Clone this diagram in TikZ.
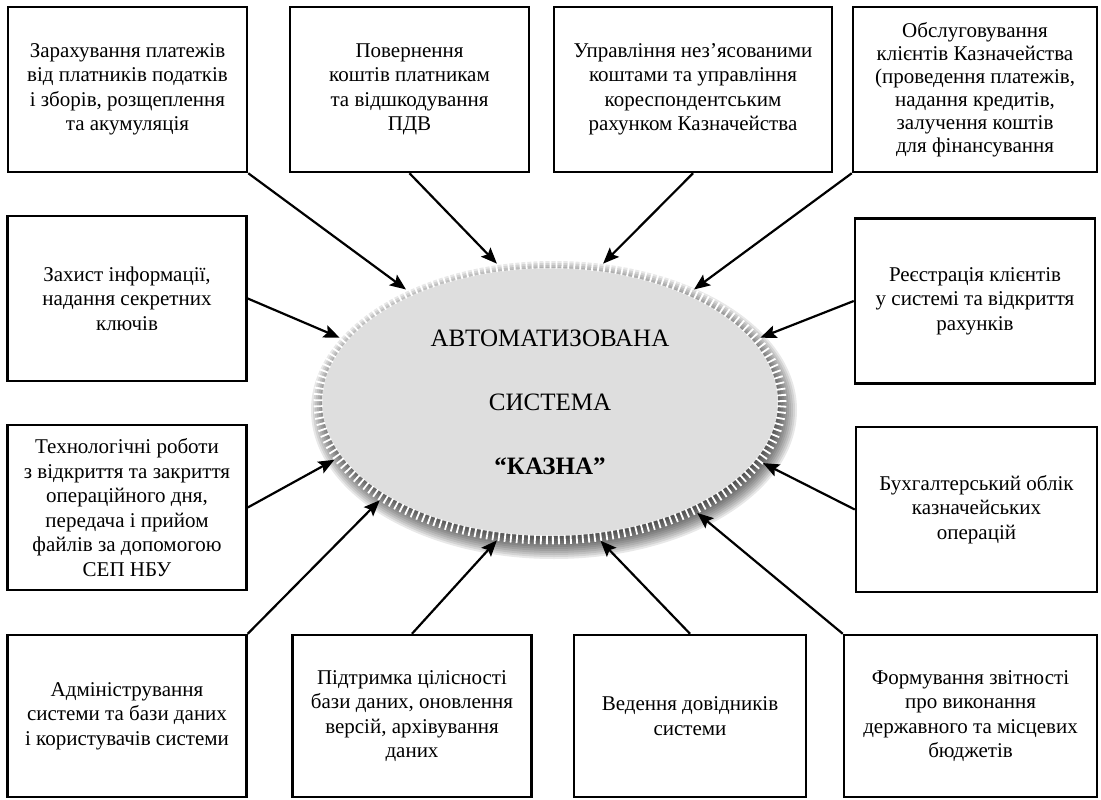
\documentclass[tikz,border=0pt]{standalone}
\usepackage{fontspec}
\setmainfont{Liberation Serif}
\usetikzlibrary{arrows.meta, shapes.geometric}

\definecolor{rimgray}{gray}{0.87}

\tikzset{
	box/.style = {draw, line width = 2.5pt, minimum width = 239pt, minimum height = 165pt, inner sep = 0pt, align = center, font = \fontsize{21}{24.5}\selectfont},
	link/.style = {line width = 2.2pt, -{Stealth[length = 16pt, width = 13pt, inset = 3pt]}}
}

\begin{document}
\begin{tikzpicture}[x = 1pt, y = -1pt]

	\useasboundingbox (0, 0) rectangle (1101, 800);

	% Shadow

	\coordinate (mid) at (550, 402);
	\foreach \s in {0, ..., 13}
		\fill [black, opacity = 0.09] ([shift = {(4, 8)}] mid) ellipse [x radius = {243pt - 2pt * \s}, y radius = {149pt - 2pt * \s}];

	% Ellipse

	\node [ellipse, fill = rimgray, minimum width = 456pt, minimum height = 268pt, inner sep = 0pt, outer sep = 8pt, align = center, font = \fontsize{25}{64}\selectfont] (kazna) at (mid) {АВТОМАТИЗОВАНА\\СИСТЕМА\\\textbf{“КАЗНА”}};
	\draw [white, line width = 9pt, dash pattern = on 1.8pt off 4.2pt] (mid) ellipse [x radius = 232pt, y radius = 138pt];

	% Boxes

	\node [box] (zarakh) at (127.5, 89.5) {Зарахування платежів\\від платників податків\\і зборів, розщеплення\\та акумуляція};
	\node [box] (povern) at (409.5, 89.5) {Повернення\\коштів платникам\\та відшкодування\\ПДВ};
	\node [box, minimum width = 278pt] (upravl) at (693, 89.5) {Управління нез’ясованими\\коштами та управління\\кореспондентським\\рахунком Казначейства};
	\node [box, minimum width = 244pt, font = \fontsize{21}{23}\selectfont] (obslug) at (975, 89.5) {Обслуговування\\клієнтів Казначейства\\(проведення платежів,\\надання кредитів,\\залучення коштів\\для фінансування};

	\node [box] (zakhyst) at (127, 298.5) {Захист інформації,\\надання секретних\\ключів};
	\node [box, minimum width = 240pt] (reiestr) at (975, 301) {Реєстрація клієнтів\\у системі та відкриття\\рахунків};

	\node [box] (tekhnol) at (127, 507.5) {Технологічні роботи\\з відкриття та закриття\\операційного дня,\\передача і прийом\\файлів за допомогою\\СЕП НБУ};
	\node [box, minimum width = 241pt] (bukhgal) at (976.5, 509.5) {Бухгалтерський облік\\казначейських\\операцій};

	\node [box, minimum height = 162pt] (admin) at (127, 716) {Адміністрування\\системи та бази даних\\і користувачів системи};
	\node [box, minimum height = 162pt] (pidtrym) at (412, 716) {Підтримка цілісності\\бази даних, оновлення\\версій, архівування\\даних};
	\node [box, minimum width = 232pt, minimum height = 162pt] (vedenn) at (690, 716) {Ведення довідників\\системи};
	\node [box, minimum width = 253pt, minimum height = 162pt] (formuv) at (970.5, 716) {Формування звітності\\про виконання\\державного та місцевих\\бюджетів};

	% Arrows

	\draw [link] (zarakh.south east) -- (kazna.142.7);
	\draw [link] (povern.south) -- (kazna.111.6);
	\draw [link] (upravl.south) -- (kazna.69.5);
	\draw [link] (obslug.south west) -- (kazna.38.2);
	\draw [link] (zakhyst.east) -- (kazna.163.5);
	\draw [link] (reiestr.west) -- (kazna.17.6);
	\draw [link] (tekhnol.east) -- (kazna.195.2);
	\draw [link] (bukhgal.west) -- (kazna.-16.3);
	\draw [link] (admin.north east) -- (kazna.210);
	\draw [link] (pidtrym.north) -- (kazna.249.3);
	\draw [link] (vedenn.north) -- (kazna.-70.3);
	\draw [link] (formuv.north west) -- (kazna.-37.8);

\end{tikzpicture}
\end{document}
